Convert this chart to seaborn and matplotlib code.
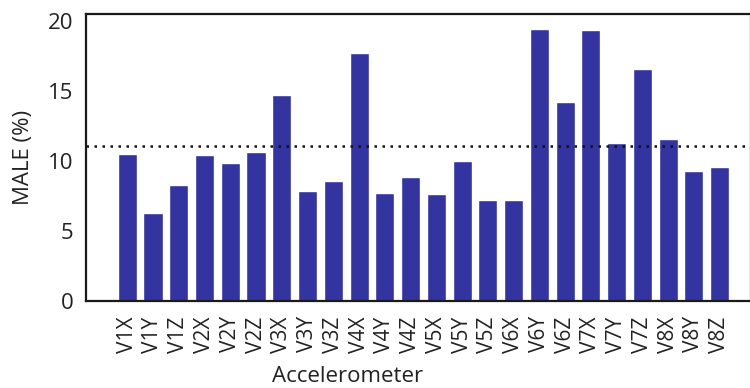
import matplotlib
matplotlib.use("Agg")

import matplotlib.pyplot as plt
import pandas as pd
import seaborn as sns

# MALE per accelerometer axis
sensors = ["V1X", "V1Y", "V1Z", "V2X", "V2Y", "V2Z", "V3X", "V3Y", "V3Z",
           "V4X", "V4Y", "V4Z", "V5X", "V5Y", "V5Z", "V6X", "V6Y", "V6Z",
           "V7X", "V7Y", "V7Z", "V8X", "V8Y", "V8Z"]
male = [10.5, 6.3, 8.3, 10.45, 9.85, 10.65, 14.7, 7.85, 8.6,
        17.75, 7.75, 8.9, 7.65, 10.0, 7.25, 7.25, 19.45, 14.2,
        19.4, 11.3, 16.6, 11.6, 9.3, 9.55]
mean_male = 11.1

sns.set_theme(style="white")
plt.rcParams["font.family"] = ["Open Sans", "DejaVu Sans"]
plt.rcParams["axes.edgecolor"] = "#1a1a1a"
plt.rcParams["axes.linewidth"] = 1.6
plt.rcParams["text.color"] = "#222222"
plt.rcParams["xtick.color"] = "#222222"
plt.rcParams["ytick.color"] = "#222222"
plt.rcParams["axes.labelcolor"] = "#222222"

df = pd.DataFrame({"Accelerometer": sensors, "MALE (%)": male})

fig = plt.figure(figsize=(7.5, 3.88), dpi=100)
ax = fig.add_axes([0.1147, 0.2242, 0.886, 0.739])
sns.barplot(data=df, x="Accelerometer", y="MALE (%)", color="#3434a0",
            saturation=1, width=0.74, ax=ax)
ax.axhline(mean_male, color="#111111", linestyle=(0, (1, 2.2)), linewidth=1.8)

ax.set_xlim(-1.6, 24.2)
ax.set_ylim(0, 20.5)
ax.set_yticks([0, 5, 10, 15, 20])
ax.tick_params(axis="x", labelrotation=90, labelsize=15, pad=11, length=0)
ax.tick_params(axis="y", labelsize=16, pad=9, length=0)
ax.set_xlabel("Accelerometer", fontsize=16)
ax.xaxis.set_label_coords(0.394, -0.228)
ax.set_ylabel("MALE (%)", fontsize=16, labelpad=10)
for side in ["top", "right", "left", "bottom"]:
    ax.spines[side].set_visible(True)

fig.savefig("out.png", dpi=100)
plt.close(fig)
print("Saved out.png")
